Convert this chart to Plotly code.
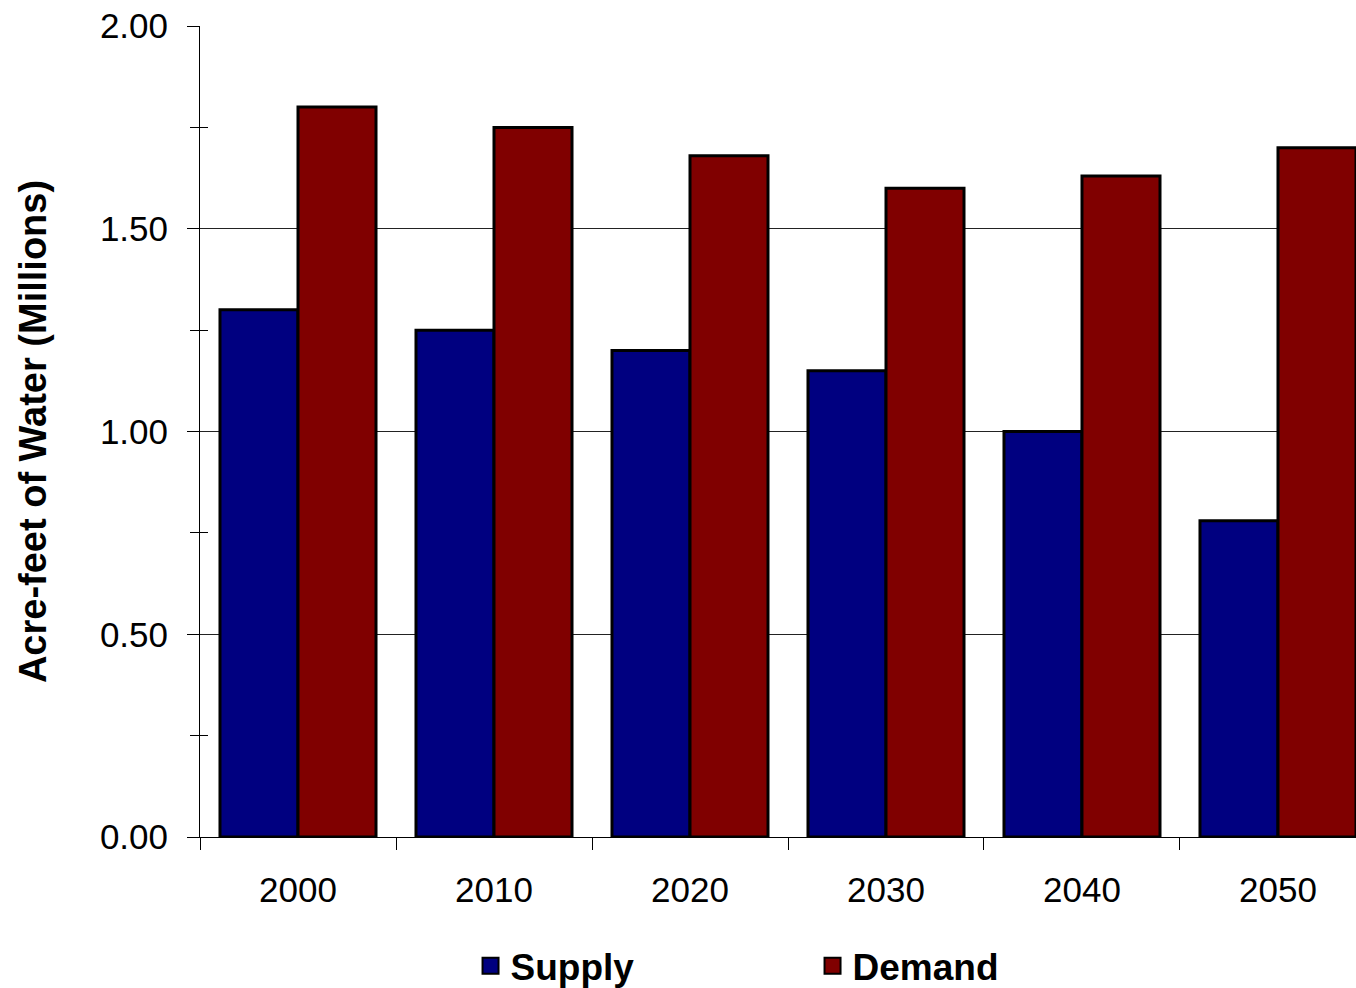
import plotly.graph_objects as go

# Water supply vs. demand projections (millions of acre-feet)
years = ["2000", "2010", "2020", "2030", "2040", "2050"]
supply = [1.30, 1.25, 1.20, 1.15, 1.00, 0.78]
demand = [1.80, 1.75, 1.68, 1.60, 1.63, 1.70]

series = [("Supply", supply, "#000080"), ("Demand", demand, "#800000")]

FONT = "Liberation Sans, Arial, sans-serif"

fig = go.Figure()
for name, values, color in series:
    fig.add_trace(go.Bar(
        name=name, x=years, y=values, legendgroup=name, showlegend=False,
        marker=dict(color=color, line=dict(color="black", width=3)),
    ))
# larger square swatches for the legend
for name, values, color in series:
    fig.add_trace(go.Scatter(
        name=name, x=[None], y=[None], mode="markers", legendgroup=name,
        marker=dict(symbol="square", size=16, color=color,
                    line=dict(color="black", width=2)),
        hoverinfo="skip",
    ))

fig.update_layout(
    width=1356, height=988,
    margin=dict(l=200, r=0, t=26, b=151),
    paper_bgcolor="white", plot_bgcolor="white",
    barmode="group", bargap=0.204, bargroupgap=0,
    font=dict(family=FONT, size=35, color="black"),
    showlegend=True,
    legend=dict(
        orientation="h", xref="container", yref="container",
        x=0.347, y=0.022, xanchor="left", yanchor="middle",
        entrywidth=297, entrywidthmode="pixels",
        font=dict(family=FONT, size=37, color="black", weight="bold"),
        bgcolor="rgba(0,0,0,0)",
    ),
)

fig.update_xaxes(
    type="category", range=[-0.5, 5.398],
    showline=True, linecolor="black", linewidth=1,
    ticks="outside", ticklen=12, tickcolor="black", tickson="boundaries",
    ticklabelstandoff=22,
    tickfont=dict(family=FONT, size=35, color="black"),
    showgrid=False,
)

fig.update_yaxes(
    range=[0, 2], dtick=0.5, tickformat=".2f",
    showline=True, linecolor="black", linewidth=1,
    ticks="outside", ticklen=12, tickcolor="black",
    ticklabelstandoff=12,
    minor=dict(dtick=0.25, ticks="outside", ticklen=9, tickcolor="black", showgrid=False),
    showgrid=True, gridcolor="#222222", gridwidth=1,
    zeroline=False,
    tickfont=dict(family=FONT, size=35, color="black"),
    title=dict(text="Acre-feet of Water (Millions)",
               font=dict(family=FONT, size=38, color="black", weight="bold"),
               standoff=41),
)

# inner half of the crossing minor ticks
fig.update_layout(yaxis2=dict(
    overlaying="y", anchor="x", side="left", range=[0, 2], dtick=0.5,
    showticklabels=False, showgrid=False, zeroline=False, showline=False,
    ticks="", minor=dict(dtick=0.25, ticks="inside", ticklen=8, tickcolor="black"),
))
fig.add_trace(go.Scatter(x=[None], y=[None], yaxis="y2", showlegend=False, hoverinfo="skip"))

fig.write_html("out.html")
